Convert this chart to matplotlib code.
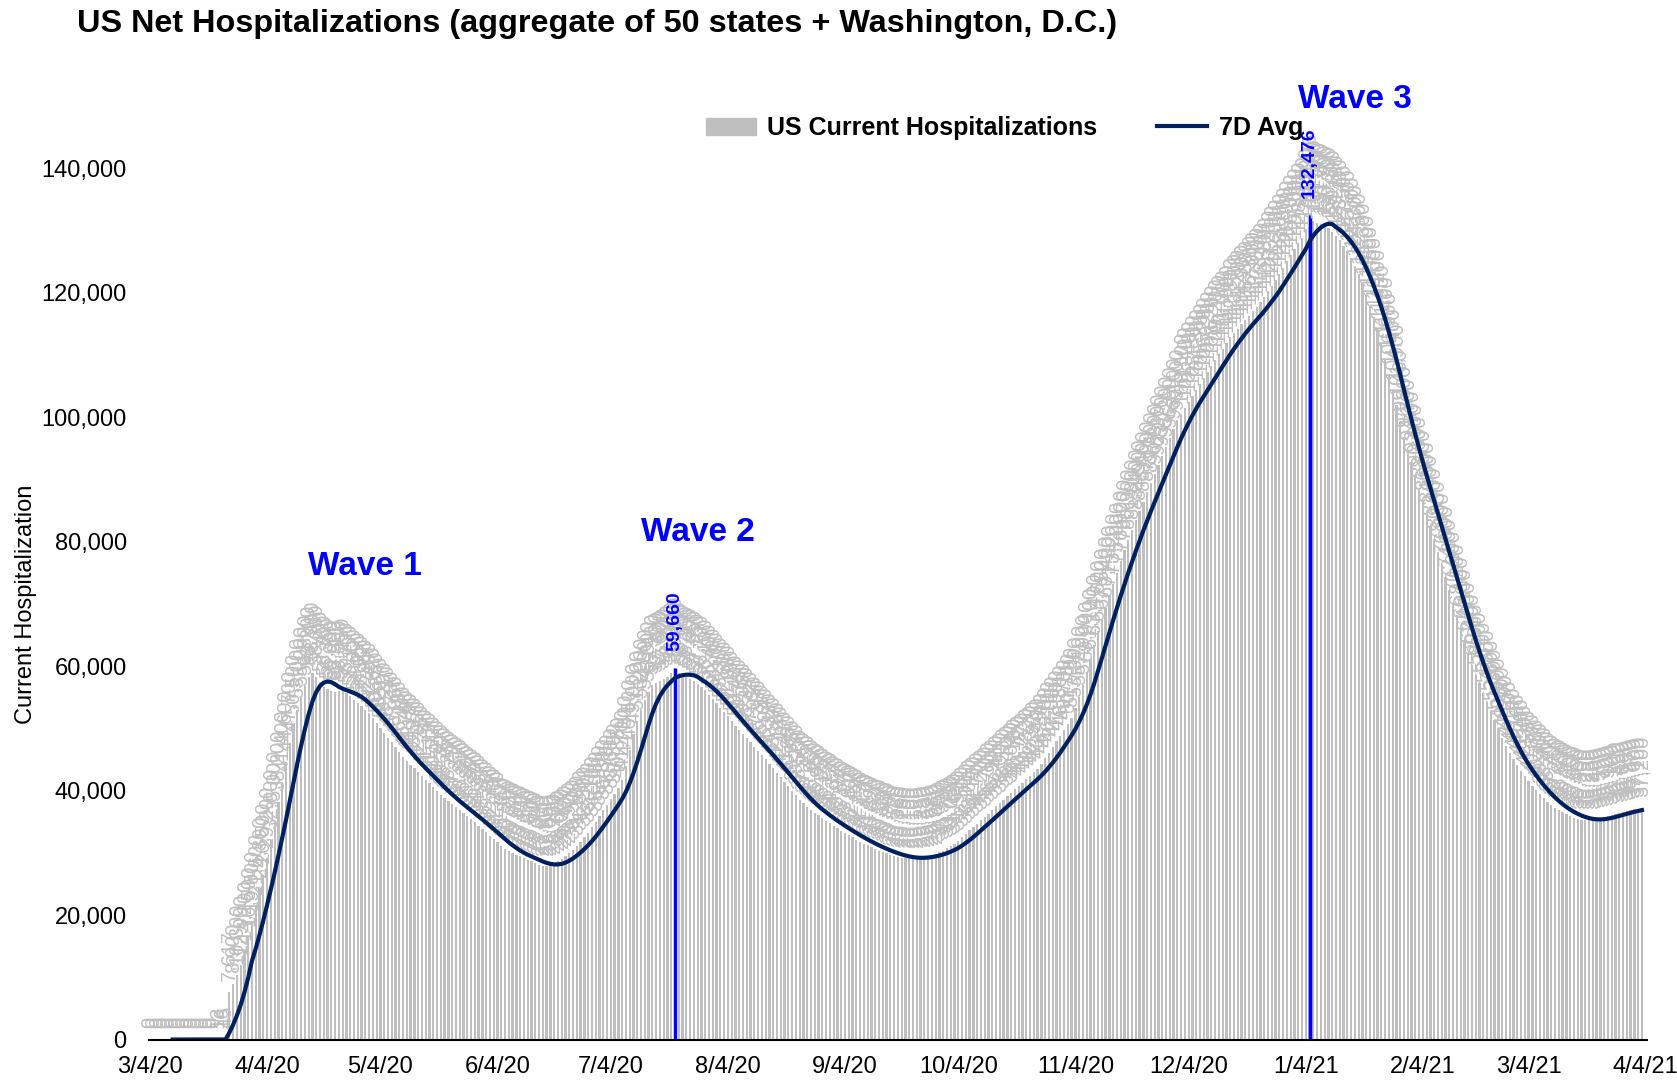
import pandas as pd
import matplotlib
matplotlib.use('Agg')
import matplotlib.pyplot as plt
from matplotlib.patches import Patch
from matplotlib.lines import Line2D

plt.rcParams['font.family'] = ['Liberation Sans Narrow', 'Liberation Sans', 'DejaVu Sans']

# daily US current hospitalizations, 3/4/20 - 4/4/21
start_date = '2020-03-04'
hosp_mar20 = [0] * 18 + [13, 16, 45, 7617, 8900, 10300, 12000, 14200, 16500, 19000]
hosp_apr20 = [21600, 24300, 26500, 29200, 32000, 35000, 38200, 41400, 44600, 47700,
              50500, 53000, 55000, 56800, 58200, 58900, 58300, 57400, 56700, 56300,
              56000, 55900, 56000, 56250, 55700, 55150, 54600, 54050, 53500, 52950]
hosp_may20 = [52400, 51620, 50850, 50070, 49290, 48510, 47730, 46960, 46180, 45400,
              44790, 44180, 43570, 42960, 42350, 41740, 41130, 40520, 39910, 39300,
              38760, 38280, 37790, 37310, 36830, 36340, 35860, 35380, 34890, 34370, 33830]
hosp_jun20 = [33280, 32740, 32200, 31650, 31110, 30560, 30210, 29940, 29680, 29410,
              29140, 28870, 28600, 28340, 28070, 27800, 27850, 28000, 28250, 28600,
              29000, 29450, 29900, 30500, 31100, 31800, 32500, 33200, 34100, 35000]
hosp_jul20 = [35900, 36800, 37700, 38600, 39500, 40350, 41700, 44000, 46500, 49000,
              51200, 53000, 54600, 55800, 56900, 57300, 57600, 57900, 58300, 58900,
              59660, 58800, 58500, 58200, 57900, 57550, 57150, 56700, 56100, 55400, 54700]
hosp_aug20 = [54000, 53300, 52600, 51900, 51100, 50400, 49730, 49060, 48390, 47720,
              47050, 46380, 45710, 45040, 44320, 43590, 42860, 42140, 41410, 40680,
              39950, 39230, 38500, 37950, 37430, 36930, 36450, 35990, 35550, 35130, 34720]
hosp_sep20 = [34320, 33920, 33540, 33170, 32810, 32460, 32120, 31790, 31470, 31170,
              30890, 30620, 30360, 30120, 29900, 29700, 29520, 29360, 29230, 29150,
              29100, 29100, 29150, 29250, 29380, 29520, 29680, 29850, 30050, 30350]
hosp_oct20 = [30700, 31050, 31450, 31950, 32500, 33050, 33600, 34150, 34700, 35200,
              35700, 36300, 36900, 37450, 38000, 38550, 39100, 39640, 40180, 40720,
              41270, 41820, 42370, 42920, 43400, 44300, 45200, 46100, 47000, 47900, 48800]
hosp_nov20 = [49700, 50700, 51700, 53300, 55100, 57000, 59000, 61100, 63400, 65600,
              67500, 69400, 71300, 73200, 75000, 76900, 78700, 80300, 81800, 83400,
              84900, 86400, 87900, 89400, 90800, 92300, 93700, 95200, 96600, 98100]
hosp_dec20 = [99500, 100500, 101400, 102400, 103300, 104300, 105300, 106200, 107200, 108200,
              109200, 110100, 111000, 111900, 112800, 113500, 114200, 114900, 115600, 116300,
              117000, 117600, 118400, 119300, 120200, 121100, 122000, 123000, 124000, 125000, 126000]
hosp_jan21 = [127000, 128000, 128800, 130200, 132476, 131500, 131200, 131000, 130700, 130300,
              129800, 129100, 128400, 127500, 126600, 125500, 124300, 122900, 121300, 119600,
              117800, 116000, 114200, 111900, 109400, 106900, 104400, 101900, 99400, 96800, 94700]
hosp_feb21 = [92700, 90600, 88600, 86500, 84500, 82400, 80400, 78350, 76300, 74300,
              72200, 70200, 68200, 66100, 64100, 62000, 60100, 58600, 57200, 55700,
              54300, 52800, 51300, 49900, 48400, 47200, 46100, 45100]
hosp_mar21 = [44100, 43200, 42300, 41500, 40800, 40100, 39400, 38800, 38200, 37700,
              37250, 36850, 36500, 36200, 35900, 35650, 35450, 35300, 35250, 35250,
              35300, 35400, 35550, 35700, 35900, 36100, 36300, 36450, 36600, 36750, 36870]
hosp_apr21 = [37000, 37100, 37200]

hosp = (hosp_mar20 + hosp_apr20 + hosp_may20 + hosp_jun20 + hosp_jul20 + hosp_aug20
        + hosp_sep20 + hosp_oct20 + hosp_nov20 + hosp_dec20 + hosp_jan21 + hosp_feb21
        + hosp_mar21 + hosp_apr21)

tick_dates = ['2020-03-04', '2020-04-04', '2020-05-04', '2020-06-04', '2020-07-04',
              '2020-08-04', '2020-09-04', '2020-10-04', '2020-11-04', '2020-12-04',
              '2021-01-04', '2021-02-04', '2021-03-04', '2021-04-04']
tick_labels = ['3/4/20', '4/4/20', '5/4/20', '6/4/20', '7/4/20', '8/4/20', '9/4/20',
               '10/4/20', '11/4/20', '12/4/20', '1/4/21', '2/4/21', '3/4/21', '4/4/21']
y_ticks = [0, 20000, 40000, 60000, 80000, 100000, 120000, 140000]

# highlighted peaks (wave 2 and wave 3)
peak_values = [59660, 132476]
wave_names = ['Wave 1', 'Wave 2', 'Wave 3']
wave_dates = ['2020-04-30', '2020-07-27', '2021-01-17']
wave_heights = [76000, 81400, 151000]

df = pd.DataFrame({'date': pd.date_range(start_date, periods=len(hosp), freq='D'),
                   'hosp': hosp})
df['avg7'] = df['hosp'].rolling(7).mean()

fig = plt.figure(figsize=(16.77, 10.86), dpi=100)
ax = fig.add_axes([0.0888, 0.0428, 0.8932, 0.8598])

# bars + rotated value labels
ax.bar(df['date'], df['hosp'], width=0.6, color='#BFBFBF', zorder=1)
for d, v in zip(df['date'], df['hosp']):
    ax.annotate(f'{v:,}', (d, v), xytext=(0, 8), textcoords='offset points',
                rotation=90, ha='center', va='bottom', fontsize=14.5,
                color='#BFBFBF', family=['Liberation Sans', 'DejaVu Sans'], zorder=3)

# peak markers
for v in peak_values:
    pk = df.loc[df['hosp'] == v, 'date'].iloc[0]
    ax.vlines(pk, 0, v, color='#0000FF', lw=2.5, zorder=2)
    ax.annotate(f'{v:,}', (pk, v), xytext=(0, 12), textcoords='offset points',
                rotation=90, ha='center', va='bottom', fontsize=14, weight='bold',
                color='#0000FF', family=['Liberation Sans', 'DejaVu Sans'], zorder=3.5)

ax.plot(df['date'], df['avg7'], color='#002060', lw=3, zorder=4)

for name, d, h in zip(wave_names, wave_dates, wave_heights):
    ax.text(pd.Timestamp(d), h, name, color='#0000FF', fontsize=24, weight='bold',
            ha='center', va='center')

ax.set_xlim(df['date'].iloc[0] - pd.Timedelta(hours=7), df['date'].iloc[-1] + pd.Timedelta(hours=31))
ax.set_ylim(0, 150000)
ax.set_xticks(pd.to_datetime(tick_dates))
ax.set_xticklabels(tick_labels, fontsize=17)
ax.set_yticks(y_ticks)
ax.set_yticklabels([f'{t:,}' for t in y_ticks], fontsize=17)
ax.tick_params(axis='both', length=0)
ax.tick_params(axis='x', pad=12)
ax.tick_params(axis='y', pad=16)
for s in ['top', 'right', 'left']:
    ax.spines[s].set_visible(False)
ax.spines['bottom'].set_color('black')
ax.spines['bottom'].set_linewidth(1.5)
ax.spines['bottom'].set_zorder(5)

ax.set_ylabel('Current Hospitalization', fontsize=17)
ax.yaxis.set_label_coords(-0.0747, 0.466)

fig.text(77 / 1677, 1 - 24 / 1086,
         'US Net Hospitalizations (aggregate of 50 states + Washington, D.C.)',
         ha='left', va='center', fontsize=23.3, weight='bold')

handles = [Patch(color='#BFBFBF', label='US Current Hospitalizations'),
           Line2D([], [], color='#002060', lw=3, label='7D Avg')]
fig.legend(handles=handles, loc='center', bbox_to_anchor=(0.599, 0.882), ncol=2,
           frameon=False, prop=dict(weight='bold', size=18), handlelength=2,
           columnspacing=2.4, handletextpad=0.45)

fig.savefig('out.png', dpi=100)
